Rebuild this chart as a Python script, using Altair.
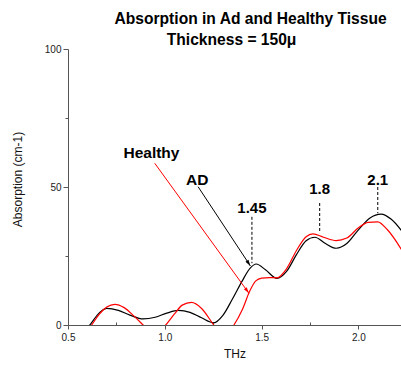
import math
import altair as alt
import pandas as pd

FONT = "Liberation Sans"

# Absorption spectra (frequency in THz, absorption in cm-1)
freq_ad = [0.59, 0.613, 0.65, 0.70, 0.76, 0.82, 0.888, 0.95, 1.01, 1.07, 1.13, 1.19,
           1.253, 1.30, 1.35, 1.40, 1.44, 1.472, 1.52, 1.579, 1.63, 1.68, 1.73, 1.775,
           1.83, 1.885, 1.94, 2.00, 2.06, 2.117, 2.17, 2.23]
abs_ad = [-1.5, 0.0, 3.5, 6.0, 5.3, 3.6, 2.2, 2.8, 4.3, 5.3, 4.6, 2.6,
          0.8, 3.5, 9.5, 16.0, 20.5, 22.1, 20.0, 16.9, 19.5, 25.5, 30.5, 31.8,
          29.5, 27.8, 29.5, 34.5, 38.8, 40.2, 38.3, 33.5]

freq_healthy = [0.60, 0.622, 0.66, 0.70, 0.742, 0.79, 0.84, 0.888, 0.945, 1.005, 1.05,
                1.09, 1.138, 1.19, 1.253, 1.30, 1.357, 1.40, 1.44, 1.47, 1.50, 1.54,
                1.579, 1.63, 1.68, 1.73, 1.765, 1.82, 1.885, 1.94, 2.00, 2.05, 2.10,
                2.15, 2.23]
abs_healthy = [-2.0, 0.0, 3.8, 6.5, 7.5, 6.3, 3.3, 0.0, -4.0, 0.0, 4.0,
               7.2, 8.2, 6.0, 0.0, -4.0, 0.0, 5.5, 12.5, 16.0, 17.0, 17.2,
               17.1, 20.5, 27.0, 32.0, 33.0, 31.8, 30.6, 31.5, 35.2, 37.2, 37.4,
               34.5, 26.5]

# Peak markers: frequency, top and bottom of the dashed drop line
peak_freq = [1.45, 1.8, 2.1]
peak_top = [39.2, 44.2, 50.0]
peak_bottom = [22.4, 33.3, 40.5]
peak_label_y = [40.7, 47.3, 50.7]

# Series callouts: label, label position, arrow start and end
callout_names = ["Healthy", "AD"]
callout_colors = ["#ff0000", "#000000"]
callout_label_x = [0.931, 1.1675]
callout_label_y = [60.4, 50.7]
arrow_x1 = [0.948, 1.172]
arrow_y1 = [58.6, 50.1]
arrow_x2 = [1.4345, 1.442]
arrow_y2 = [11.5, 21.4]

# Title lines
title_lines = ["Absorption in Ad and Healthy Tissue", "Thickness = 150\u03bc"]
title_x = [1.443, 1.345]
title_y = [109.1, 101.4]

X_DOMAIN = [0.5, 2.22]
Y_DOMAIN = [0, 100]
W, H = 333, 276
KX = W / (X_DOMAIN[1] - X_DOMAIN[0])
KY = H / (Y_DOMAIN[1] - Y_DOMAIN[0])

xs = alt.Scale(domain=X_DOMAIN, nice=False, zero=False)
ys = alt.Scale(domain=Y_DOMAIN, nice=False, zero=False)

curves = pd.concat([
    pd.DataFrame({"f": freq_ad, "a": abs_ad, "s": "AD"}),
    pd.DataFrame({"f": freq_healthy, "a": abs_healthy, "s": "Healthy"}),
])

x_axis = alt.Axis(values=[0.5, 1.0, 1.5, 2.0], format=".1f", title="THz",
                  tickSize=4, labelPadding=3, grid=False, labelFlush=False,
                  domainColor="#555555", tickColor="#555555",
                  labelFont=FONT, labelFontSize=10, labelColor="#222222",
                  titleFont=FONT, titleFontSize=12, titleFontWeight="normal",
                  titleColor="#111111", titlePadding=6)
y_axis = alt.Axis(values=[0, 25, 50, 75, 100], title="Absorption (cm-1)",
                  labelExpr="datum.value % 50 === 0 ? datum.label : ''",
                  tickSize={"condition": {"test": "datum.value % 50 === 0", "value": 5}, "value": 3},
                  labelPadding=2, grid=False, labelFlush=False,
                  domainColor="#555555", tickColor="#555555",
                  labelFont=FONT, labelFontSize=10, labelColor="#222222",
                  titleFont=FONT, titleFontSize=12, titleFontWeight="normal",
                  titleColor="#111111", titleX=-44, titleY=130)

lines = alt.Chart(curves).mark_line(interpolate="monotone", strokeWidth=1.2, clip=True).encode(
    x=alt.X("f:Q", scale=xs, axis=x_axis),
    y=alt.Y("a:Q", scale=ys, axis=y_axis),
    color=alt.Color("s:N", scale=alt.Scale(domain=["AD", "Healthy"],
                                           range=["#000000", "#ff0000"]), legend=None),
    detail="s:N",
)

peaks = pd.DataFrame({"f": peak_freq, "top": peak_top, "bottom": peak_bottom,
                      "ly": peak_label_y, "label": [str(v) for v in peak_freq]})

# Minor x ticks pointing into the plot, drawn by a top axis moved onto the baseline
minor_x_axis = alt.Axis(orient="top", offset=-H, values=[0.75, 1.25, 1.75],
                        labels=False, domain=False, tickSize=3, tickColor="#555555",
                        title=None, grid=False)

drops = alt.Chart(peaks).mark_rule(color="black", strokeWidth=1, strokeDash=[3, 2]).encode(
    x=alt.X("f:Q", scale=xs, axis=minor_x_axis),
    y=alt.Y("top:Q", scale=ys, axis=None),
    y2="bottom:Q",
)

peak_labels = alt.Chart(peaks).mark_text(font=FONT, fontSize=15, fontWeight="bold",
                                          baseline="alphabetic", align="center").encode(
    x=alt.X("f:Q", scale=xs, axis=None),
    y=alt.Y("ly:Q", scale=ys, axis=None),
    text="label:N",
)

# Arrow heads: rotate along each arrow and step back so the tip lands on the end point
head_x, head_y, head_angle = [], [], []
TIP = 4.0
for x1, y1, x2, y2 in zip(arrow_x1, arrow_y1, arrow_x2, arrow_y2):
    sx = (x2 - x1) * KX
    sy = -(y2 - y1) * KY
    L = math.hypot(sx, sy)
    ux, uy = sx / L, sy / L
    head_x.append(x2 - TIP * ux / KX)
    head_y.append(y2 + TIP * uy / KY)
    head_angle.append(math.degrees(math.atan2(ux, -uy)) % 360)

callouts = pd.DataFrame({
    "name": callout_names, "color": callout_colors,
    "lx": callout_label_x, "ly": callout_label_y,
    "x1": arrow_x1, "y1": arrow_y1, "x2": arrow_x2, "y2": arrow_y2,
    "hx": head_x, "hy": head_y, "ang": head_angle,
})

arrow_shafts = alt.Chart(callouts).mark_rule(strokeWidth=1).encode(
    x=alt.X("x1:Q", scale=xs, axis=None),
    y=alt.Y("y1:Q", scale=ys, axis=None),
    x2="x2:Q", y2="y2:Q",
    color=alt.Color("color:N", scale=None),
)

arrow_heads = alt.Chart(callouts).mark_point(
    shape="M0,-1L-0.45,0.55L0.45,0.55Z", size=64, filled=True, opacity=1).encode(
    x=alt.X("hx:Q", scale=xs, axis=None),
    y=alt.Y("hy:Q", scale=ys, axis=None),
    angle=alt.Angle("ang:Q", scale=None),
    color=alt.Color("color:N", scale=None),
)

callout_labels = alt.Chart(callouts).mark_text(font=FONT, fontSize=15.5, fontWeight="bold",
                                               baseline="alphabetic", align="center",
                                               color="black").encode(
    x=alt.X("lx:Q", scale=xs, axis=None),
    y=alt.Y("ly:Q", scale=ys, axis=None),
    text="name:N",
)

titles = pd.DataFrame({"t": title_lines, "x": title_x, "y": title_y})
title_text = alt.Chart(titles).mark_text(font=FONT, fontSize=15.6, fontWeight="bold",
                                         baseline="alphabetic", align="center",
                                         color="black", clip=False).encode(
    x=alt.X("x:Q", scale=xs, axis=None),
    y=alt.Y("y:Q", scale=ys, axis=None),
    text="t:N",
)

chart = alt.layer(
    lines, drops, peak_labels, arrow_shafts, arrow_heads, callout_labels, title_text
).resolve_axis(x="independent", y="independent").properties(
    width=W, height=H,
    autosize=alt.AutoSizeParams(type="none"),
    padding={"left": 68, "top": 49, "right": 0, "bottom": 42},
    background="white",
).configure_view(stroke=None)

chart.save("out.html", embed_options={"renderer": "svg", "actions": False})
